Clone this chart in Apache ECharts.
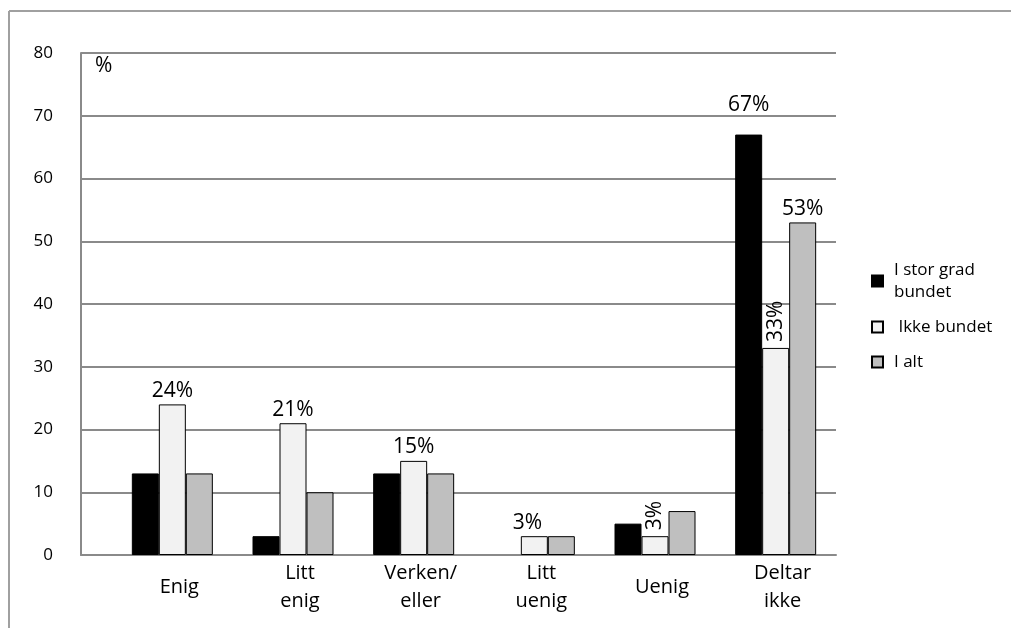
<!DOCTYPE html>
<html>
<head>
<meta charset="utf-8">
<title>Bundet – svarfordeling</title>
<script src="https://cdn.jsdelivr.net/npm/echarts@6/dist/echarts.min.js"></script>
<style>
  html, body { margin: 0; padding: 0; background: #fff; }
  #chart { width: 1011px; height: 628px; }
</style>
</head>
<body>
<div id="chart"></div>
<script>
// Answer categories along the x axis
const categories = ['Enig', 'Litt\nenig', 'Verken/\neller', 'Litt\nuenig', 'Uenig', 'Deltar\nikke'];

// Share of respondents (%) per group
const storGradBundet = [13, 3, 13, 0, 5, 67];
const ikkeBundet = [24, 21, 15, 3, 3, 33];
const iAlt = [13, 10, 13, 3, 7, 53];

const seriesNames = ['I stor grad\nbundet', 'Ikke bundet', 'I alt'];

// Value axis ticks
const yMin = 0;
const yMax = 80;
const yStep = 10;

const FONT = '"Open Sans", "DejaVu Sans", sans-serif';
const GRID_GREY = '#8a8a8a';

// Which bars carry a value label, and which of those are set vertically
const labelIndex = [[5], [0, 1, 2, 3, 4, 5], [5]];
const rotatedIndex = [[], [4, 5], []];

function buildData(values, s) {
  return values.map((v, i) => {
    const item = { value: v };
    // empty bars get no outline so nothing shows on the baseline
    if (v === 0) item.itemStyle = { borderWidth: 0 };
    if (labelIndex[s].includes(i)) {
      const label = {
        show: true,
        position: 'top',
        distance: 3,
        formatter: p => p.value + '%',
        fontFamily: FONT,
        fontSize: 21,
        color: '#000'
      };
      if (rotatedIndex[s].includes(i)) {
        Object.assign(label, { rotate: 90, align: 'left', verticalAlign: 'middle', distance: 6 });
      }
      if (s === 0 && i === 5) label.distance = 19;
      if (s === 1 && i === 3) label.offset = [-7, 0];
      item.label = label;
    } else {
      item.label = { show: false };
    }
    return item;
  });
}

const fills = ['#000000', '#f2f2f2', '#bfbfbf'];
const valueSets = [storGradBundet, ikkeBundet, iAlt];

const chart = echarts.init(document.getElementById('chart'), null, { renderer: 'canvas' });

chart.setOption({
  animation: false,
  backgroundColor: '#ffffff',
  textStyle: { fontFamily: FONT },
  grid: [
    // value-axis frame with gridlines
    { left: 81, right: 175, top: 53, bottom: 73 },
    // bar area
    { left: 112, right: 175, top: 53, bottom: 73 }
  ],
  xAxis: [
    {
      gridIndex: 0, type: 'category', data: [''],
      axisLine: { show: true, lineStyle: { color: GRID_GREY, width: 2 } },
      axisTick: { show: false }, axisLabel: { show: false }, splitLine: { show: false }
    },
    {
      gridIndex: 1, type: 'category', data: categories,
      axisLine: { show: false }, axisTick: { show: false },
      axisLabel: {
        show: true, interval: 0, margin: 32, verticalAlign: 'middle',
        fontFamily: FONT, fontSize: 20, lineHeight: 28, color: '#000',
        padding: [0, 0, 0, 14]
      }
    }
  ],
  yAxis: [
    {
      gridIndex: 0, type: 'value', min: yMin, max: yMax, interval: yStep,
      axisLine: { show: true, lineStyle: { color: GRID_GREY, width: 2 } },
      axisTick: { show: false },
      axisLabel: { margin: 28, fontFamily: FONT, fontSize: 17, color: '#000' },
      splitLine: { show: true, lineStyle: { color: GRID_GREY, width: 2 } }
    },
    {
      gridIndex: 1, type: 'value', min: yMin, max: yMax, interval: yStep,
      show: false, splitLine: { show: false }
    }
  ],
  legend: {
    orient: 'vertical',
    left: 866,
    top: 254,
    itemWidth: 11,
    itemHeight: 11,
    itemGap: 13,
    icon: 'rect',
    data: seriesNames,
    formatter: name => (name === 'Ikke bundet' ? ' ' + name : name),
    textStyle: { fontFamily: FONT, fontSize: 17, lineHeight: 22, color: '#000', padding: [0, 0, 0, 6] }
  },
  graphic: [
    // outer frame (top and left edges)
    { type: 'line', shape: { x1: 9, y1: 11, x2: 1011, y2: 11 }, style: { stroke: '#a0a0a0', lineWidth: 2 }, silent: true },
    { type: 'line', shape: { x1: 9, y1: 11, x2: 9, y2: 628 }, style: { stroke: '#a0a0a0', lineWidth: 2 }, silent: true },
    // unit marker inside plot
    { type: 'text', left: 95, top: 56, style: { text: '%', fontFamily: FONT, fontSize: 21, fill: '#000' }, silent: true }
  ],
  series: valueSets.map((vals, s) => ({
    name: seriesNames[s],
    type: 'bar',
    xAxisIndex: 1,
    yAxisIndex: 1,
    barWidth: 27,
    barGap: '0%',
    itemStyle: { color: fills[s], borderColor: '#000', borderWidth: 1 },
    data: buildData(vals, s)
  }))
});
</script>
</body>
</html>
